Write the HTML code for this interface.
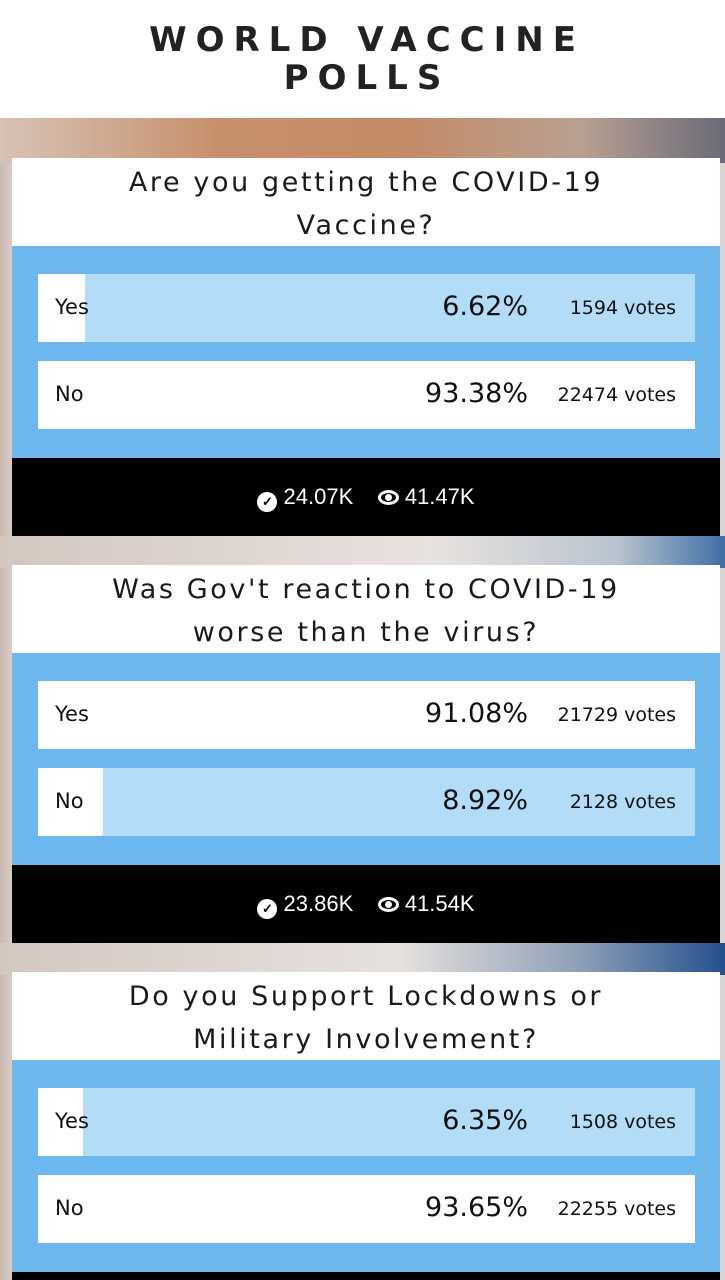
<!DOCTYPE html>
<html><head><style>
*{margin:0;padding:0;box-sizing:border-box}
html,body{width:725px;height:1280px;overflow:hidden}
body{position:relative;font-family:"DejaVu Sans","Liberation Sans",sans-serif;
background:linear-gradient(90deg,#c9b9b0 0px,#d8cdc6 12px,#e4dcd8 50%,#d9d4d4 100%);}
.hdr{position:absolute;left:0;top:0;width:725px;height:118px;background:#fff;text-align:center;font-family:"DejaVu Sans",sans-serif;font-weight:bold;font-size:34px;letter-spacing:9px;line-height:38px;color:#222;padding-top:21px;padding-left:9px}
.bgtop{position:absolute;left:0;top:118px;width:725px;height:45px;background:linear-gradient(90deg,#d7c2b6,#c7906c 30%,#c48a66 55%,#b9a091 80%,#6a6a78)}
.bgmid{position:absolute;left:0;top:536px;width:725px;height:32px;background:linear-gradient(90deg,#d4c7c0,#e8e2df 60%,#b9c4cf 85%,#3f6fa6)}
.bgmid2{position:absolute;left:0;top:943px;width:725px;height:32px;background:linear-gradient(90deg,#d4c7c0,#e6e1de 55%,#8e9fb7 80%,#24508e)}
.card{position:absolute;left:12px;width:708px}
.q{height:88px;background:#fff;text-align:center;font-size:27px;letter-spacing:2.6px;line-height:43px;color:#1a1a1a;padding-top:3px}
.blue{height:212px;background:#6cb8ee;padding:28px 25px 0 26px}
.row{height:68px;background:#b2dcf7;position:relative;margin-bottom:19px}
.fill{position:absolute;left:0;top:0;bottom:0;background:#fff}
.lab{position:absolute;left:17px;top:21px;font-size:21px;color:#111}
.pct{position:absolute;right:167px;top:17px;font-size:27px;color:#111}
.vot{position:absolute;right:19px;top:23px;font-size:19px;color:#111}
.blk{height:78px;background:#000;color:#fff;font-family:"Liberation Sans",sans-serif;font-size:22px;text-align:center;line-height:78px}
.ic{display:inline-block;width:20px;height:20px;border-radius:50%;background:#fff;color:#000;font-size:13px;line-height:20px;vertical-align:-2px;font-weight:bold}
.eye{display:inline-block;width:21px;height:15px;border:3px solid #fff;border-radius:50%;vertical-align:-1px;position:relative}
.eye:after{content:"";position:absolute;left:4px;top:1px;width:7px;height:7px;border-radius:50%;background:#fff}
</style></head><body>
<div class="hdr">WORLD VACCINE<br>POLLS</div>
<div class="bgtop"></div><div class="bgmid"></div><div class="bgmid2"></div>
<div class="card" style="top:158px">
<div class="q">Are you getting the COVID-19<br>Vaccine?</div>
<div class="blue">
<div class="row"><div class="fill" style="width:47px"></div><span class="lab">Yes</span><span class="pct">6.62%</span><span class="vot">1594 votes</span></div>
<div class="row" style="background:#fff"><span class="lab">No</span><span class="pct">93.38%</span><span class="vot">22474 votes</span></div>
</div>
<div class="blk"><span class="ic">✓</span> 24.07K &nbsp;&nbsp;&nbsp;<span class="eye"></span> 41.47K</div>
</div>
<div class="card" style="top:565px">
<div class="q">Was Gov't reaction to COVID-19<br>worse than the virus?</div>
<div class="blue">
<div class="row" style="background:#fff"><span class="lab">Yes</span><span class="pct">91.08%</span><span class="vot">21729 votes</span></div>
<div class="row"><div class="fill" style="width:65px"></div><span class="lab">No</span><span class="pct">8.92%</span><span class="vot">2128 votes</span></div>
</div>
<div class="blk"><span class="ic">✓</span> 23.86K &nbsp;&nbsp;&nbsp;<span class="eye"></span> 41.54K</div>
</div>
<div class="card" style="top:972px">
<div class="q">Do you Support Lockdowns or<br>Military Involvement?</div>
<div class="blue">
<div class="row"><div class="fill" style="width:45px"></div><span class="lab">Yes</span><span class="pct">6.35%</span><span class="vot">1508 votes</span></div>
<div class="row" style="background:#fff"><span class="lab">No</span><span class="pct">93.65%</span><span class="vot">22255 votes</span></div>
</div>
<div class="blk" style="height:9px"></div>
</div>
</body></html>
